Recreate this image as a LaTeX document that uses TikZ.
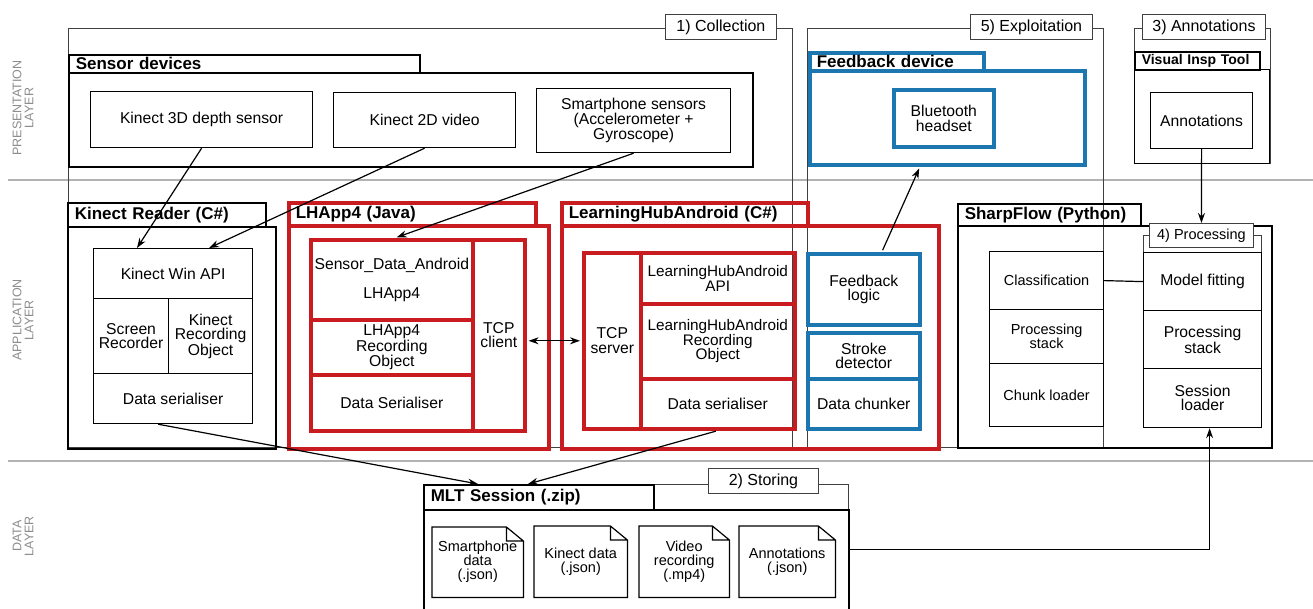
\documentclass[tikz,border=0pt]{standalone}
\usepackage{fontspec}
\setmainfont{Liberation Sans}
\usetikzlibrary{arrows.meta}

\definecolor{lhred}{RGB}{200,28,32}
\definecolor{lhblue}{RGB}{28,118,176}
\definecolor{layergray}{RGB}{178,178,178}

\newcommand{\boxfont}{\fontsize{15.7}{14.5}\selectfont}
\newcommand{\smallfont}{\fontsize{14.5}{14}\selectfont}
\newcommand{\hdrfont}{\fontsize{17}{17}\selectfont\bfseries}

\tikzset{
  wh/.style 2 args={minimum width=#1pt, minimum height=#2pt},
  box/.style={draw, line width=1.2pt, anchor=north west, align=center, inner sep=1pt, font=\boxfont},
  redbox/.style={box, draw=lhred, line width=3.6pt},
  bluebox/.style={box, draw=lhblue, line width=3.6pt},
  hdr/.style 2 args={box, line width=1.5pt, align=left, font=\hdrfont, inner xsep=7pt, inner ysep=0pt,
    text width=#1pt, minimum height=#2pt},
  frame/.style={draw=black!75, line width=0.9pt},
  stage/.style={box, fill=white, draw=black!75, line width=0.9pt, font=\fontsize{16}{16}\selectfont},
  doc/.style={anchor=north west, align=center, inner sep=1pt, font=\smallfont},
  layer/.style={rotate=90, align=center, text=black!45, font=\fontsize{12.5}{12}\selectfont},
  layerline/.style={draw=layergray, line width=1.4pt},
  arr/.style={line width=1.2pt, ->},
}

\begin{document}
\begin{tikzpicture}[x=1pt, y=-1pt, >={Stealth[length=10pt, width=7pt]}]
    \useasboundingbox (0,0) rectangle (1313,608);
    \clip (0,0) rectangle (1313,608);

    % Layers
    \draw[layerline] (8,180) -- (1313,180);
    \draw[layerline] (8,461) -- (1313,461);
    \node[layer] (lpres) at (23,108) {PRESENTATION\\LAYER};
    \node[layer] (lapp) at (23,320) {APPLICATION\\LAYER};
    \node[layer] (ldata) at (23,536) {DATA\\LAYER};

    % Stage frames
    \draw[frame] (68,28) rectangle (792,447);
    \draw[frame] (807,28) rectangle (1103,447);
    \draw[frame] (1134,28) rectangle (1270,163);
    \draw[frame] (1143,235) rectangle (1261,427);
    \node[stage, wh={111}{25}] (scol) at (665,14) {1) Collection};
    \node[stage, wh={122}{25}] (sexp) at (970,14) {5) Exploitation};
    \node[stage, wh={123}{25}] (sann) at (1142,14) {3) Annotations};

    % Sensor devices
    \node[box, line width=1.5pt, wh={684}{94}] (sens) at (68,72) {};
    \node[hdr={337}{18}] (sensh) at (68,54) {Sensor devices};
    \node[box, wh={222}{56}] (k3d) at (90,91) {Kinect 3D depth sensor};
    \node[box, wh={182}{55}] (k2d) at (333,92) {Kinect 2D video};
    \node[box, wh={194}{64}, font=\fontsize{15.7}{15}\selectfont] (smart) at (536,88)
        {Smartphone sensors\\(Accelerometer +\\Gyroscope)};

    % Feedback device
    \node[bluebox, wh={275}{94}] (fdev) at (808,69) {};
    \node[hdr={160}{18}, draw=lhblue, line width=3.6pt] (fdevh) at (808,51) {Feedback device};
    \node[bluebox, wh={100}{57}] (bth) at (892,88) {Bluetooth\\headset};

    % Visual Insp Tool
    \node[box, wh={135}{94}] (vis) at (1134,69) {};
    \node[hdr={111}{18}, font=\fontsize{14}{14}\selectfont\bfseries] (vish) at (1134,51) {Visual Insp Tool};
    \node[box, wh={102}{56}] (ann) at (1150,92) {Annotations};

    % Kinect Reader
    \node[box, line width=1.5pt, wh={208}{222}] (kread) at (67,226) {};
    \node[hdr={184}{24}] (kreadh) at (67,202) {Kinect Reader (C\#)};
    \node[box, wh={159}{50}] (kwin) at (93,248) {Kinect Win API};
    \node[box, wh={75}{75}] (kscr) at (93,298) {Screen\\Recorder};
    \node[box, wh={84}{75}] (krec) at (168,298) {Kinect\\Recording\\Object};
    \node[box, wh={159}{50}] (kser) at (93,373) {Data serialiser};

    % LHApp4
    \node[redbox, wh={260}{223}] (lhapp) at (287,224) {};
    \node[hdr={233}{23}, draw=lhred, line width=3.6pt] (lhapph) at (287,201) {LHApp4 (Java)};
    \node[redbox, wh={162}{80}] (lsda) at (309,238) {Sensor\_Data\_Android\\[14pt]LHApp4};
    \node[redbox, wh={162}{55}] (lrec) at (309,318) {LHApp4\\Recording\\Object};
    \node[redbox, wh={162}{56}] (lser) at (309,373) {Data Serialiser};
    \node[redbox, wh={52}{191}] (ltcp) at (471,238) {TCP\\client};

    % LearningHubAndroid
    \node[redbox, wh={377}{223}] (lha) at (560,224) {};
    \node[hdr={232}{23}, draw=lhred, line width=3.6pt] (lhah) at (560,201) {LearningHubAndroid (C\#)};
    \node[redbox, wh={57}{176}] (htcp) at (582,251) {TCP\\server};
    \node[redbox, wh={154}{51}, font=\fontsize{15.3}{14.5}\selectfont] (hapi) at (639,251) {LearningHubAndroid\\API};
    \node[redbox, wh={154}{75}, font=\fontsize{15.3}{14.5}\selectfont] (hrec) at (639,302)
        {LearningHubAndroid\\Recording\\Object};
    \node[redbox, wh={154}{50}] (hser) at (639,377) {Data serialiser};
    \node[bluebox, wh={112}{71}] (flog) at (806,252) {Feedback\\logic};
    \node[bluebox, wh={112}{46}] (fstr) at (806,331) {Stroke\\detector};
    \node[bluebox, wh={112}{50}] (fchk) at (806,377) {Data chunker};

    % SharpFlow
    \node[box, line width=1.5pt, wh={314}{222}] (sharp) at (957,225) {};
    \node[hdr={169}{22}] (sharph) at (957,203) {SharpFlow (Python)};
    \node[box, wh={114}{58}, font=\smallfont] (scls) at (989,251) {Classification};
    \node[box, wh={114}{54}, font=\smallfont] (sps1) at (989,309) {Processing\\stack};
    \node[box, wh={114}{63}, font=\smallfont] (schk) at (989,363) {Chunk loader};
    \node[box, wh={118}{58}] (smod) at (1143,252) {Model fitting};
    \node[box, wh={118}{58}] (sps2) at (1143,310) {Processing\\stack};
    \node[box, wh={118}{59}] (ssl) at (1143,368) {Session\\loader};
    \node[stage, wh={104}{24}, font=\fontsize{14.5}{14.5}\selectfont] (procl) at (1149,223) {4) Processing};

    % MLT Session
    \draw[frame] (653,484) -- (848,484) -- (848,509);
    \node[box, line width=1.5pt, wh={425}{111}] (mlt) at (423,509) {};
    \node[hdr={216}{25}] (mlth) at (423,484) {MLT Session (.zip)};
    \node[stage, wh={110}{25}] (ssto) at (708,468) {2) Storing};
    \node[doc, wh={91}{70}] (dsm) at (432,527) {Smartphone\\data\\(.json)};
    \node[doc, wh={93}{71}] (dki) at (534,526) {Kinect data\\(.json)};
    \node[doc, wh={90}{71}] (dvi) at (639,526) {Video\\recording\\(.mp4)};
    \node[doc, wh={96}{71}] (dan) at (739,526) {Annotations\\(.json)};
    \foreach \d in {dsm,dki,dvi,dan}
        \draw[line width=1.2pt] (\d.north west) -- ([xshift=-17pt]\d.north east)
            -- ([yshift=-14pt]\d.north east) -- (\d.south east) -- (\d.south west) -- cycle
            ([xshift=-17pt]\d.north east) |- ([yshift=-14pt]\d.north east);

    % Connectors
    \draw[arr] (k3d.south) -- ([xshift=44pt]kwin.north west);
    \draw[arr] (k2d.south) -- ([xshift=116pt]kwin.north west);
    \draw[arr, shorten >=2pt] (smart.south) -- ([xshift=3pt]lsda.north);
    \draw[arr, <->, shorten <=2pt, shorten >=2pt] (ltcp.east |- htcp.west) -- (htcp.west);
    \draw[arr, shorten <=2pt, shorten >=2pt] ([xshift=18pt]flog.north) -- ([xshift=112pt]fdev.south west);
    \draw[arr] (ann.south) -- (procl.north);
    \draw[arr] ([yshift=16pt]mlt.east) -| ([xshift=7pt]ssl.south);
    \draw[arr] ([xshift=-15pt]kser.south) -- ([xshift=55pt]mlth.north west);
    \draw[arr, shorten <=2pt] (hser.south) -- ([xshift=105pt]mlth.north west);
    \draw[line width=1.2pt] (scls.east) -- (smod.west);
\end{tikzpicture}
\end{document}
